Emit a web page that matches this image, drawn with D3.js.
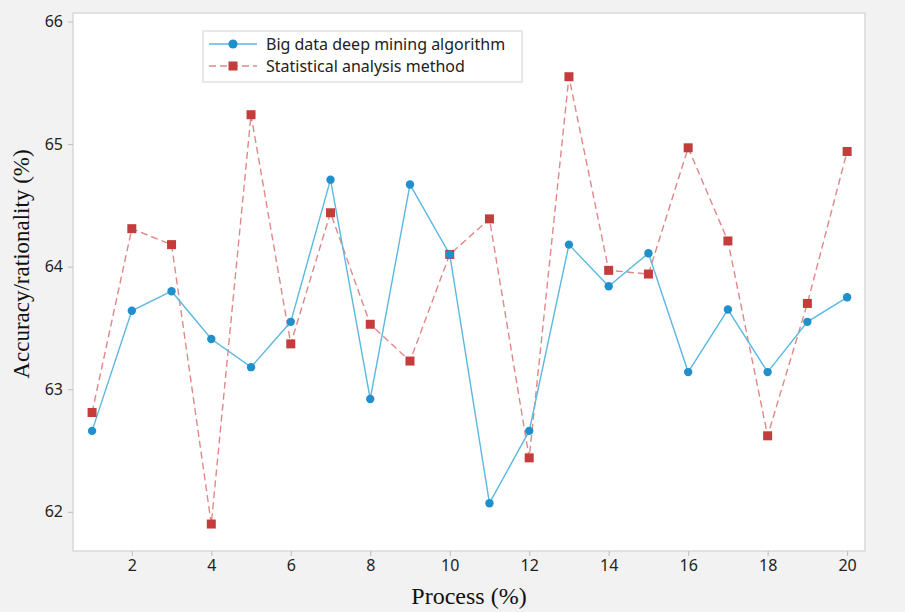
<!DOCTYPE html>
<html><head><meta charset="utf-8">
<script src="https://cdn.jsdelivr.net/npm/d3@7"></script>
<style>
html,body{margin:0;padding:0;background:#f2f2f2;}
svg{display:block;}
</style></head>
<body>
<script>
const process = [1,2,3,4,5,6,7,8,9,10,11,12,13,14,15,16,17,18,19,20];
const bigData = [62.66,63.64,63.80,63.41,63.18,63.55,64.71,62.92,64.67,64.10,62.07,62.66,64.18,63.84,64.11,63.14,63.65,63.14,63.55,63.75];
const statistical = [62.81,64.31,64.18,61.90,65.24,63.37,64.44,63.53,63.23,64.10,64.39,62.44,65.55,63.97,63.94,64.97,64.21,62.62,63.70,64.94];
const xTicks = [2,4,6,8,10,12,14,16,18,20];
const yTicks = [62,63,64,65,66];
const seriesNames = ["Big data deep mining algorithm","Statistical analysis method"];

const W=905,H=612;
const m={left:73,top:13,right:865,bottom:551};
const svg=d3.select("body").append("svg").attr("width",W).attr("height",H);
svg.append("rect").attr("width",W).attr("height",H).attr("fill","#f2f2f2");

const x=d3.scaleLinear().domain([0.52,20.45]).range([m.left,m.right]);
const y=d3.scaleLinear().domain([61.68,66.07]).range([m.bottom,m.top]);

svg.append("rect").attr("x",m.left).attr("y",m.top).attr("width",m.right-m.left).attr("height",m.bottom-m.top)
  .attr("fill","#fff").attr("stroke","#d9d9d9").attr("stroke-width",1.5);

const tickFont="'Noto Sans','Open Sans',sans-serif";
const xAxis=svg.append("g").attr("transform",`translate(0,${m.bottom})`)
  .call(d3.axisBottom(x).tickValues(xTicks).tickSize(5).tickPadding(4).tickFormat(d3.format("d")));
const yAxis=svg.append("g").attr("transform",`translate(${m.left},0)`)
  .call(d3.axisLeft(y).tickValues(yTicks).tickSize(5).tickPadding(5).tickFormat(d3.format("d")));
[xAxis,yAxis].forEach(g=>{
  g.select(".domain").remove();
  g.selectAll(".tick line").attr("stroke","#bdbdbd");
  g.selectAll(".tick text").attr("fill","#222").style("font-family",tickFont).style("font-size","16px");
});

svg.append("text").attr("x",469).attr("y",604).attr("text-anchor","middle")
  .style("font-family","'Liberation Serif','Times New Roman',serif").style("font-size","24px").attr("fill","#111")
  .text("Process (%)");
svg.append("text").attr("transform",`translate(29,${(m.top+m.bottom)/2-18}) rotate(-90)`).attr("text-anchor","middle")
  .style("font-family","'Liberation Serif','Times New Roman',serif").style("font-size","23px").attr("fill","#111")
  .text("Accuracy/rationality (%)");

const blueLine="#5bb8e0", blueMark="#2090cc", redLine="#e08888", redMark="#c43c3c";
const line=d3.line().x((d,i)=>x(process[i])).y(d=>y(d));

svg.append("path").datum(statistical).attr("d",line).attr("fill","none")
  .attr("stroke",redLine).attr("stroke-width",1.4).attr("stroke-dasharray","7,4");
svg.append("path").datum(bigData).attr("d",line).attr("fill","none")
  .attr("stroke",blueLine).attr("stroke-width",1.4);

svg.selectAll("rect.sq").data(statistical).enter().append("rect").attr("class","sq")
  .attr("x",(d,i)=>x(process[i])-4.5).attr("y",d=>y(d)-4.5).attr("width",9).attr("height",9).attr("fill",redMark);
svg.selectAll("circle.pt").data(bigData).enter().append("circle").attr("class","pt")
  .attr("cx",(d,i)=>x(process[i])).attr("cy",d=>y(d)).attr("r",4.2).attr("fill",blueMark);

// legend
const lg=svg.append("g");
lg.append("rect").attr("x",203).attr("y",31).attr("width",319).attr("height",51)
  .attr("fill","#fff").attr("stroke","#d9d9d9").attr("stroke-width",1.2);
const rows=[{y:44,c:blueLine,m:blueMark,dash:null,shape:"c"},{y:66,c:redLine,m:redMark,dash:"7,4",shape:"s"}];
rows.forEach((r,i)=>{
  lg.append("line").attr("x1",209).attr("x2",257).attr("y1",r.y).attr("y2",r.y)
    .attr("stroke",r.c).attr("stroke-width",1.4).attr("stroke-dasharray",r.dash);
  if(r.shape==="c") lg.append("circle").attr("cx",233).attr("cy",r.y).attr("r",4.6).attr("fill",r.m);
  else lg.append("rect").attr("x",228.5).attr("y",r.y-4.5).attr("width",9).attr("height",9).attr("fill",r.m);
  lg.append("text").attr("x",266).attr("y",r.y).attr("dy","0.35em")
    .style("font-family",tickFont).style("font-size","16px").attr("fill","#222").text(seriesNames[i]);
});
</script>
</body></html>
